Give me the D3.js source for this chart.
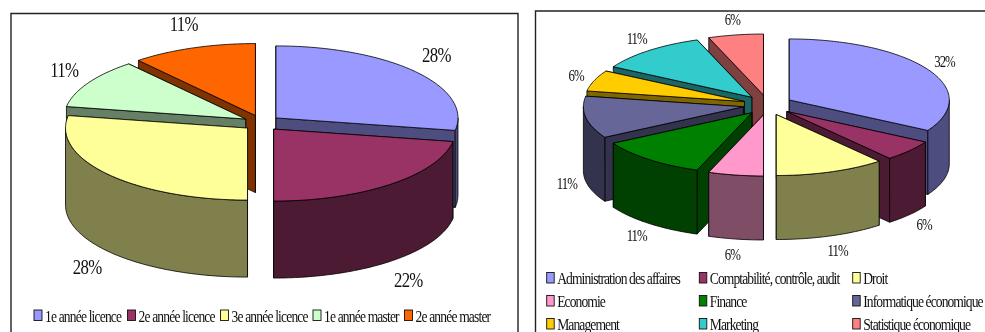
<!DOCTYPE html>
<html><head><meta charset="utf-8">
<style>html,body{margin:0;padding:0;background:#fff}svg{display:block;filter:blur(0.35px)}text{font-family:"Liberation Serif",serif;fill:#111}</style>
<script src="https://cdn.jsdelivr.net/npm/d3@7"></script></head><body>
<svg id="c" width="985" height="332"></svg>
<script>
const leftCategories=["1e année licence","2e année licence","3e année licence","1e année master","2e année master"];
const leftValues=[5,4,5,2,2];
const leftLabels=["28%","22%","28%","11%","11%"];
const leftColors=["#9999FF","#993366","#FFFF99","#CCFFCC","#FF6600"];
const rightCategories=["Administration des affaires","Comptabilité, contrôle, audit","Droit","Economie","Finance","Informatique économique","Management","Marketing","Statistique économique"];
const rightValues=[6,1,2,1,2,2,1,2,1];
const rightLabels=["32%","6%","11%","6%","11%","11%","6%","11%","6%"];
const rightColors=["#9999FF","#993366","#FFFF99","#FF99CC","#008000","#666699","#FFCC00","#33CCCC","#FF8080"];

const svg=d3.select("#c");
const halve=c=>{const r=d3.rgb(c);return d3.rgb(r.r/2,r.g/2,r.b/2).formatHex();};
const stroke="#000";

function pie3d(o){
  const g=svg.append("g");
  const arcs=d3.pie().sort(null).value(d=>d.v)(o.values.map((v,i)=>({v,i})));
  const px=d3.scaleLinear().domain([-1,1]).range([-o.rx,o.rx]);
  const py=d3.scaleLinear().domain([-1,1]).range([o.ry,-o.ry]);
  const pt=(a,ax,ay,dz=0)=>[ax+px(Math.sin(a)),ay+py(Math.cos(a))+dz];
  const line=d3.line();
  const items=arcs.map(a=>{
    const mid=(a.startAngle+a.endAngle)/2;
    return {a,mid,ax:o.cx+px(Math.sin(mid))*o.ex,ay:o.cy+py(Math.cos(mid))*o.ey};
  }).sort((p,q)=>Math.cos(q.mid)-Math.cos(p.mid));
  const arcPts=(a0,a1,ax,ay,dz)=>{
    const n=Math.max(2,Math.ceil((a1-a0)/0.02));
    return d3.range(n+1).map(k=>pt(a0+(a1-a0)*k/n,ax,ay,dz));
  };
  items.forEach(s=>{
    const {a,ax,ay}=s,c=o.colors[a.data.i],w=halve(c);
    const gs=g.append("g");
    const radial=[a.startAngle,a.endAngle].sort((p,q)=>Math.cos(q)-Math.cos(p));
    radial.forEach(t=>{
      const e=pt(t,ax,ay);
      gs.append("path").attr("d",line([[ax,ay],e,[e[0],e[1]+o.depth],[ax,ay+o.depth]])+"Z")
        .attr("fill",w).attr("stroke",stroke).attr("stroke-width",.8).attr("stroke-linejoin","round");
    });
    const a0=Math.max(a.startAngle,Math.PI/2),a1=Math.min(a.endAngle,3*Math.PI/2);
    if(a1>a0){
      const pts=arcPts(a0,a1,ax,ay,0).concat(arcPts(a0,a1,ax,ay,o.depth).reverse());
      gs.append("path").attr("d",line(pts)+"Z").attr("fill",w).attr("stroke",stroke).attr("stroke-width",.8).attr("stroke-linejoin","round");
    }
    const top=[[ax,ay]].concat(arcPts(a.startAngle,a.endAngle,ax,ay,0));
    gs.append("path").attr("d",line(top)+"Z").attr("fill",c).attr("stroke",stroke).attr("stroke-width",.8).attr("stroke-linejoin","round");
  });
  // percentage labels
  arcs.forEach((a,i)=>{
    const mid=(a.startAngle+a.endAngle)/2;
    const x=o.cx+Math.sin(mid)*o.lx;
    const y=o.cy-Math.cos(mid)*o.ly+(Math.cos(mid)<0?o.depth:0)+o.lsize*0.33;
    g.append("text").attr("text-anchor","middle")
      .attr("transform",`translate(${x},${y}) scale(${o.lscale},1)`)
      .attr("font-size",o.lsize).attr("letter-spacing",o.ltrack).text(o.labels[i]);
  });
  // legend
  o.categories.forEach((t,i)=>{
    const c=o.legendX[i%o.legendX.length],r=Math.floor(i/o.legendX.length);
    const yy=o.legendY+r*o.legendDy;
    g.append("rect").attr("x",c).attr("y",yy-o.swH).attr("width",o.swW).attr("height",o.swH)
      .attr("fill",o.colors[i]).attr("stroke","#111").attr("stroke-width",.9);
    g.append("text").attr("transform",`translate(${c+o.swW+3},${yy+1}) scale(${o.tscale},1)`)
      .attr("font-size",o.tsize).attr("letter-spacing",o.ttrack).text(t);
  });
}

// frames
svg.append("path").attr("d",d3.line()([[11,332],[11,13.5],[518,13.5],[518,332]])).attr("fill","none").attr("stroke","#222").attr("stroke-width",1.4);
svg.append("path").attr("d",d3.line()([[535.5,332],[535.5,11],[985,11]])).attr("fill","none").attr("stroke","#222").attr("stroke-width",1.4);

pie3d({values:leftValues,labels:leftLabels,colors:leftColors,categories:leftCategories,
  cx:261.75,cy:123,rx:182,ry:72,ex:.102,ey:.11,depth:77,lx:228,ly:105,
  lsize:21,lscale:.8,ltrack:-.9,
  legendX:[34,127.5,220.5,313,404.5],legendY:320.5,legendDy:0,swW:8,swH:10.5,tsize:16.5,tscale:.82,ttrack:-1,});
pie3d({values:rightValues,labels:rightLabels,colors:rightColors,categories:rightCategories,
  cx:767.8,cy:105,rx:160,ry:61,ex:.155,ey:.166,depth:64,lx:204,ly:87,
  lsize:16,lscale:.8,ltrack:-1.2,
  legendX:[546.7,699.3,852.7],legendY:283,legendDy:23,swW:7.5,swH:10.5,tsize:17,tscale:.8,ttrack:-1.15});
</script></body></html>
